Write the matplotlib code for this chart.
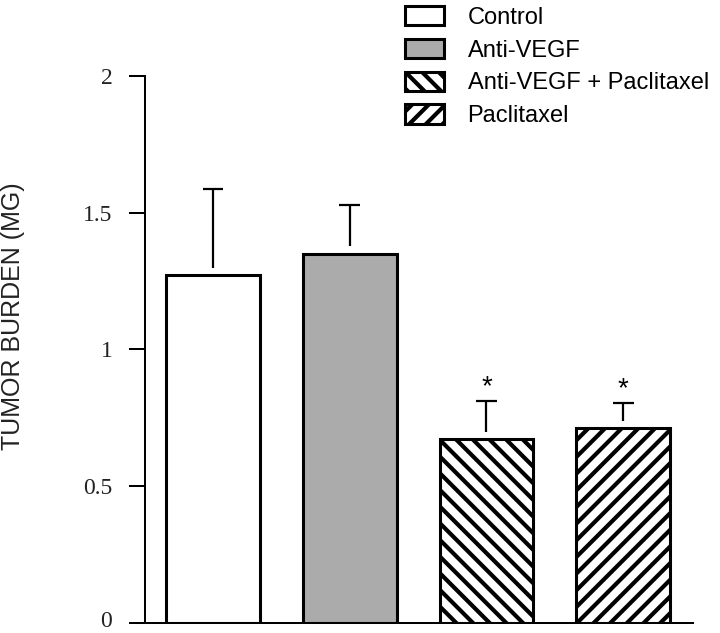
import matplotlib
matplotlib.use("Agg")
import matplotlib.pyplot as plt
import matplotlib.transforms as mtransforms
import numpy as np

# Данные
groups = ["Control", "Anti-VEGF", "Anti-VEGF + Paclitaxel", "Paclitaxel"]
means = [1.27, 1.35, 0.672, 0.711]
errors = [0.317, 0.179, 0.139, 0.092]
significant = [False, False, True, True]
yticks = [0, 0.5, 1, 1.5, 2]
ytick_labels = ["0", "0.5", "1", "1.5", "2"]

fills = ["white", "#ababab", "white", "white"]
hatches = [None, None, "\\\\", "//"]

plt.rcParams["hatch.linewidth"] = 3.0
plt.rcParams["font.family"] = ["Liberation Sans", "DejaVu Sans"]

fig = plt.figure(figsize=(7.2, 6.33), dpi=100)
ax = fig.add_axes([145 / 720, 1 - 623 / 633, 548 / 720, (623 - 75.7) / 633])

x = np.arange(len(groups))
bars = []
for i in range(len(groups)):
    b = ax.bar(x[i], means[i], width=0.686, color=fills[i], hatch=hatches[i],
               edgecolor="black", linewidth=2.2, label=groups[i], zorder=2)
    bars.append(b)

# Усы ошибок только вверх, с небольшим зазором над столбцом
gap = 0.027
for i in range(len(groups)):
    top = means[i] + errors[i]
    ax.vlines(x[i], means[i] + gap, top, color="black", linewidth=1.6, zorder=3)
    ax.hlines(top, x[i] - 0.075, x[i] + 0.075, color="black", linewidth=1.6, zorder=3)
    if significant[i]:
        ax.text(x[i], top + 0.024, "*", ha="center", va="baseline", fontsize=20)

ax.set_ylim(0, 2)
ax.set_xlim(-0.497, 3.51)
ax.set_yticks(yticks)
ax.set_yticklabels(ytick_labels, fontfamily="Liberation Serif", fontsize=17,
                   color="#222222")
ax.set_xticks([])
ax.tick_params(axis="y", length=11.5, width=1.45, pad=12, direction="out")
for side in ["top", "right"]:
    ax.spines[side].set_visible(False)
ax.spines["left"].set_linewidth(1.45)
ax.spines["bottom"].set_linewidth(1.45)

# подпись "0" чуть выше, чтобы не обрезалась снизу
lbl0 = ax.get_yticklabels()[0]
lbl0.set_transform(lbl0.get_transform() +
                   mtransforms.ScaledTranslation(0, 3 / 72, fig.dpi_scale_trans))

ax.set_ylabel("TUMOR BURDEN (MG)", fontsize=18, color="#222222")
ax.yaxis.set_label_coords(-0.219, 0.56)

fig.legend(handles=[b[0] for b in bars], labels=groups, loc="upper left",
           bbox_to_anchor=(405 / 720, 1 - 6 / 633), frameon=False,
           fontsize=17, handlelength=1.65, handleheight=0.89,
           handletextpad=1.0, labelspacing=0.42, borderpad=0, borderaxespad=0)

fig.savefig("out.png", dpi=100)
